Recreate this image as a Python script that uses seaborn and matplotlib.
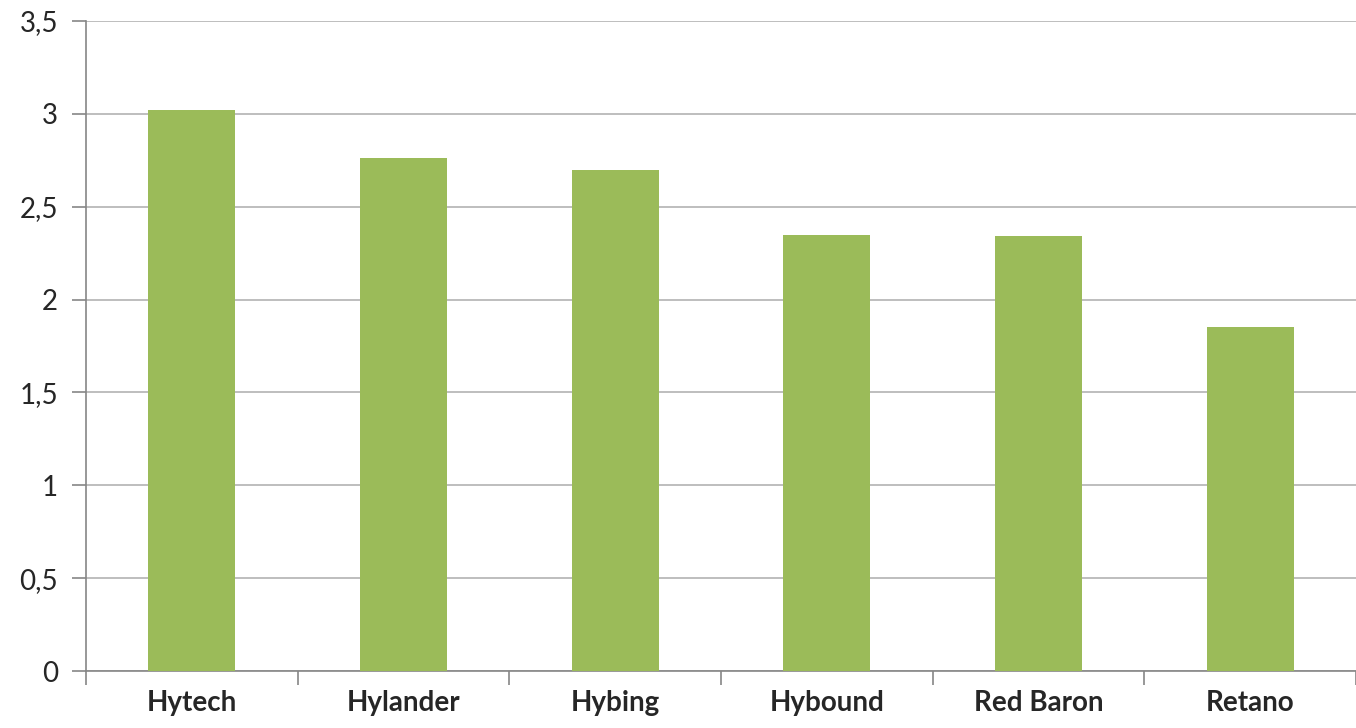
import pandas as pd
import numpy as np
import matplotlib
matplotlib.use('Agg')
import matplotlib.pyplot as plt
import seaborn as sns
from matplotlib.ticker import FuncFormatter, FixedLocator

# data
varieties = ['Hytech', 'Hylander', 'Hybing', 'Hybound', 'Red Baron', 'Retano']
values = [3.02, 2.76, 2.70, 2.35, 2.34, 1.85]

df = pd.DataFrame({'variety': varieties, 'value': values})

sns.set_style('white')
plt.rcParams['font.family'] = ['Lato', 'DejaVu Sans']

fig = plt.figure(figsize=(13.56, 7.28), dpi=100)
ax = fig.add_axes([86 / 1356, 1 - 671 / 728, 1 - 86 / 1356, (671 - 21) / 728])

sns.barplot(data=df, x='variety', y='value', color='#9BBB59', width=0.41,
            saturation=1, linewidth=0, ax=ax, zorder=3)

ax.set_ylim(0, 3.5)
ax.set_xlim(-0.5, len(varieties) - 0.5)
ax.set_yticks(np.arange(0, 3.51, 0.5))
ax.yaxis.set_major_formatter(FuncFormatter(lambda v, p: f'{v:g}'.replace('.', ',')))
ax.yaxis.grid(True, color='#b3b3b3', linewidth=1.2, zorder=0)
ax.set_axisbelow(True)

ax.set_xlabel('')
ax.set_ylabel('')

# boundary ticks between categories
ax.xaxis.set_minor_locator(FixedLocator(np.arange(-0.5, len(varieties), 1.0)))
ax.tick_params(axis='x', which='major', length=0, pad=14, labelsize=20)
ax.tick_params(axis='x', which='minor', length=10, width=1.2, color='#868686',
               direction='out', bottom=True)
ax.tick_params(axis='y', which='major', length=10, width=1.2, color='#868686',
               direction='out', labelsize=20, pad=10, left=True)
for lab in ax.get_xticklabels():
    lab.set_fontweight('bold')

for side in ['top', 'right']:
    ax.spines[side].set_visible(False)
for side in ['left', 'bottom']:
    ax.spines[side].set_color('#868686')
    ax.spines[side].set_linewidth(1.2)

fig.savefig('out.png', dpi=100)
